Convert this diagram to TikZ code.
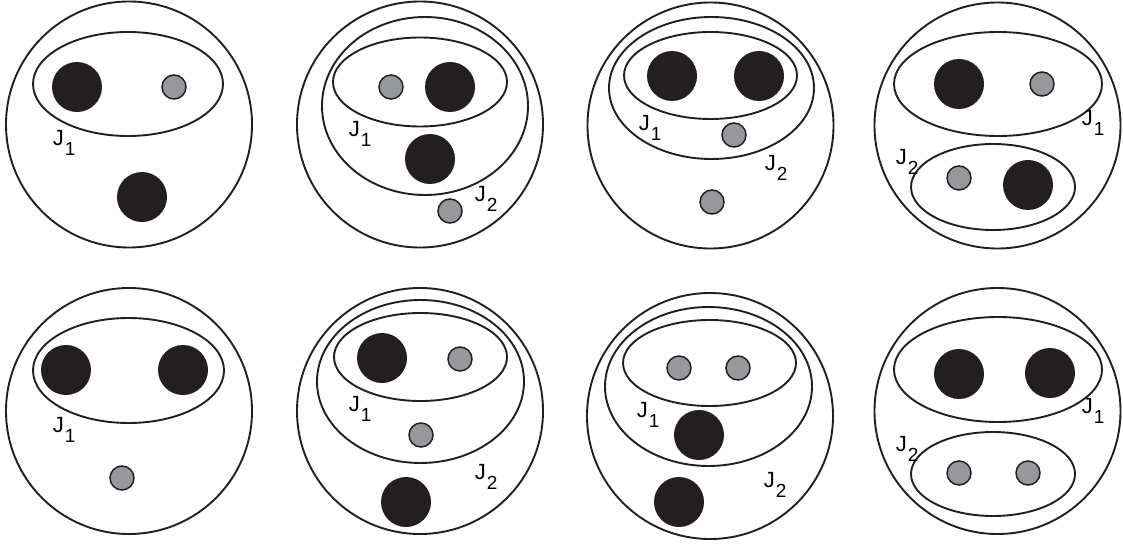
\documentclass[tikz,border=0pt]{standalone}
\usepackage{fontspec}
\setmainfont{Liberation Sans}
\usepackage{tikz}
\definecolor{DotBlack}{RGB}{35,31,32}
\definecolor{DotGris} {RGB}{150,152,156}
\newcommand{\jsub}[1]{\kern1pt\raisebox{-10pt}{\fontsize{19}{21}\selectfont #1}}

\begin{document}
\begin{tikzpicture}[x=1pt,y=-1pt,line width=1.9pt,
    bigdot/.style={fill=DotBlack},
    smalldot/.style={fill=DotGris,draw=DotBlack,line width=1.5pt},
    lab/.style={anchor=base west,inner sep=0pt,font=\fontsize{22}{25}\selectfont}]
  \useasboundingbox (0,0) rectangle (1123,545);
  % outer circles
  \foreach \cx/\cy in {129/124.5,420/124.5,710.5/125.5,997.5/125.5,
                       129/411,420/411,710/416,997.5/411}{
    \draw[DotBlack] (\cx,\cy) circle[radius=123pt];
  }
  % sets J1, J2
  \foreach \cx/\cy/\rx/\ry in {128/84/95/52, 425/106/103/89, 420/82/87/44.5,
      711.5/88/102.5/71, 710.5/75.5/86.5/43.5, 998/84/104/52, 993/187/82/43,
      128.5/370.5/95.5/52.5, 420.5/381.5/103.5/81.5, 420.5/357/86.5/44,
      708.5/386.5/103.5/79.5, 709.5/363/86.5/43, 998/369.5/104/52.5, 993/474/82/42}{
    \draw[DotBlack] (\cx,\cy) ellipse[x radius=\rx pt,y radius=\ry pt];
  }
  % black dots
  \foreach \cx/\cy in {77/87,142/197, 450/87,430/159, 672/76,759/76, 959/84,1028/185,
      66/370,183/370, 382/358,406/502, 699/435,679/502, 959/374,1050/373}{
    \fill[bigdot] (\cx,\cy) circle[radius=25pt];
  }
  % grey dots
  \foreach \cx/\cy in {174/87, 391/87,450/211, 734/135,712/202, 1042/84,959/178,
      122/478, 460/359,421/435, 679/368,738/368, 959/473,1028/473}{
    \filldraw[smalldot] (\cx,\cy) circle[radius=12pt];
  }
  % labels
  \foreach \nm/\x/\y/\k in {aJa/52/146/1, bJa/348/137/1, bJb/474/202/2,
      cJa/638/131/1, cJb/764/171/2, dJa/1081/126/1, dJb/895/165/2,
      eJa/52/432/1, fJa/348/411/1, fJb/474/479/2, gJa/636/417/1, gJb/763/487/2,
      hJa/1081/413/1, hJb/895/451/2}{
    \node[lab] (\nm) at (\x,\y) {J\jsub{\k}};
  }
\end{tikzpicture}
\end{document}
